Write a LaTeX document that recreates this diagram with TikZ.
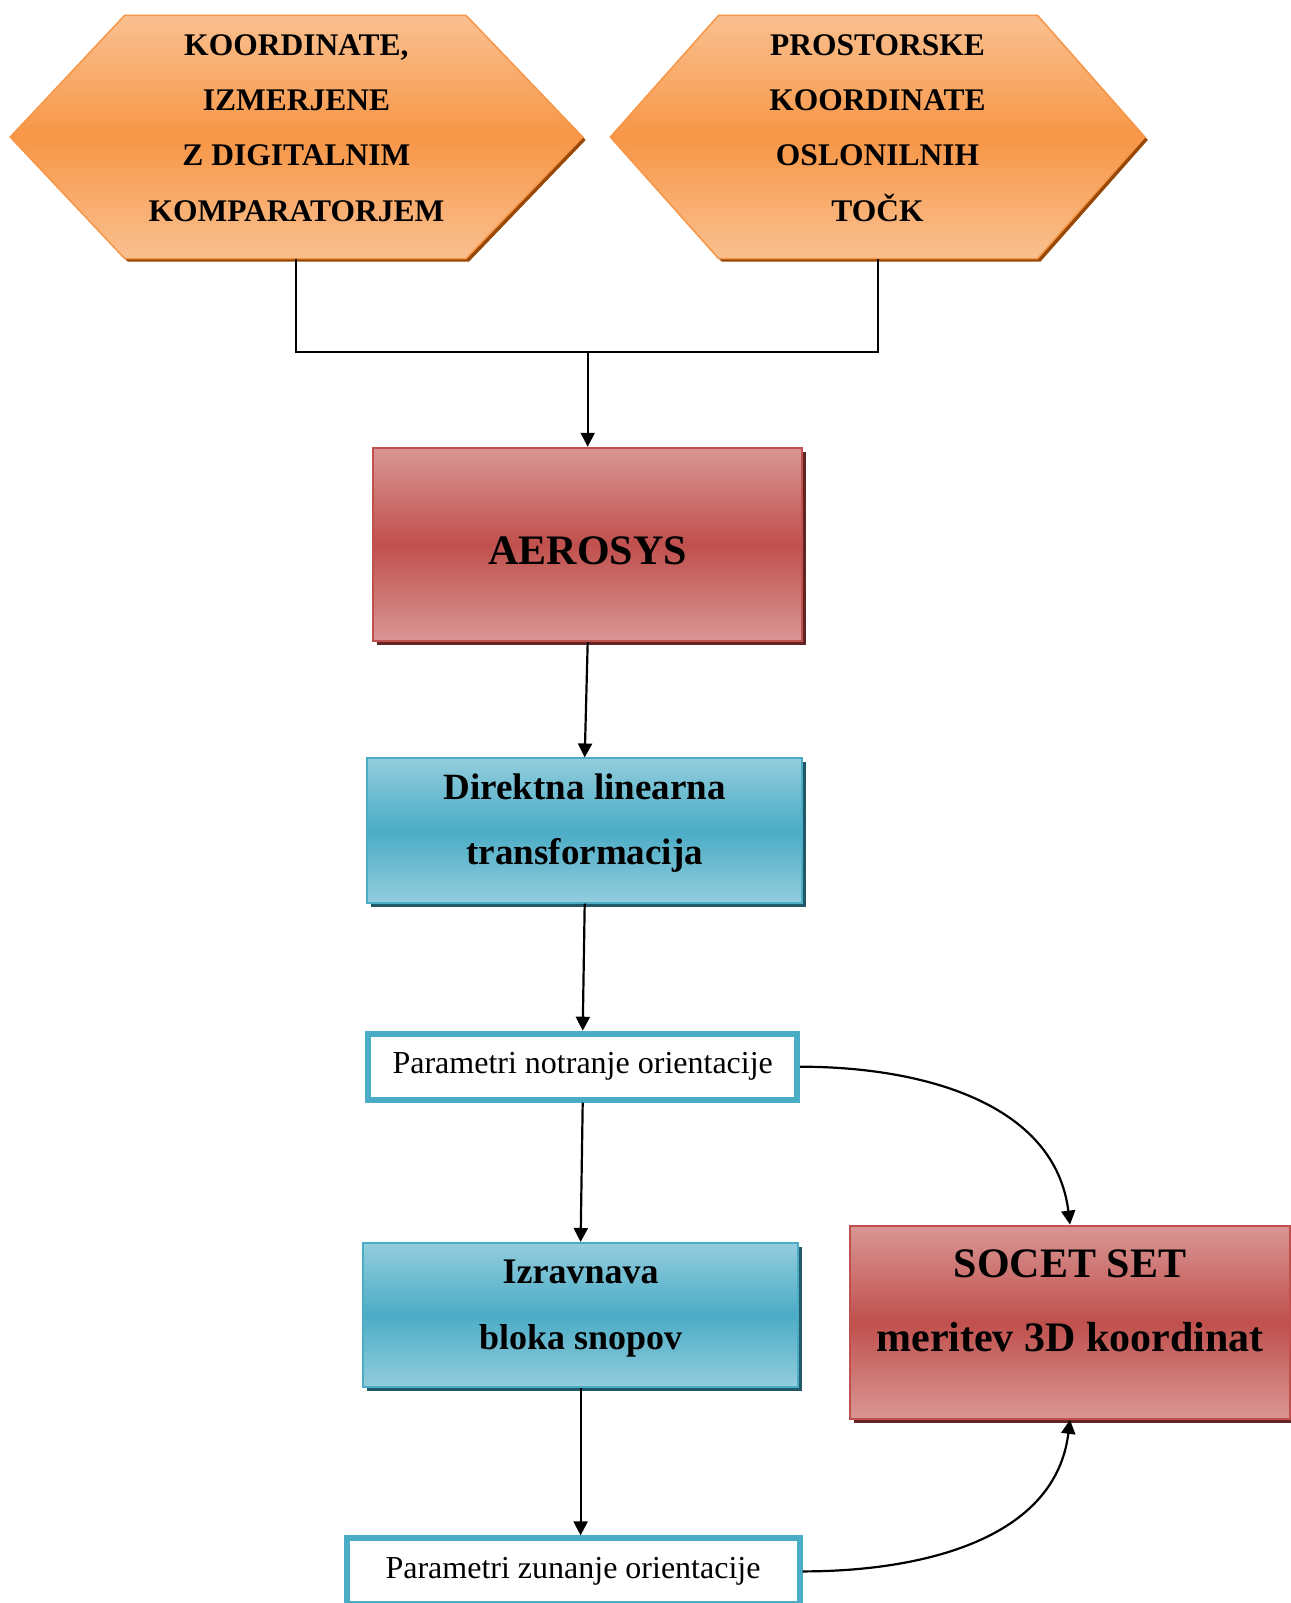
\documentclass[tikz,border=0pt]{standalone}
\usepackage{fontspec}
\setmainfont{Liberation Serif}
\usetikzlibrary{arrows.meta,shadows}
\definecolor{orL}{HTML}{FAC090}
\definecolor{orM}{HTML}{F79646}
\definecolor{orS}{HTML}{984807}
\definecolor{rdL}{HTML}{D99694}
\definecolor{rdM}{HTML}{C0504D}
\definecolor{rdS}{HTML}{632523}
\definecolor{blL}{HTML}{93CDDD}
\definecolor{blM}{HTML}{4BACC6}
\definecolor{blS}{HTML}{215968}
\begin{document}
\begin{tikzpicture}[x=1pt,y=-1pt,
  hexshade/.style={draw=orM, line width=1.5pt, top color=orL, bottom color=orL, middle color=orM},
  hextxt/.style={font=\fontsize{31.5}{55.2}\selectfont\bfseries, align=center, inner sep=0pt},
  redbox/.style={rectangle, draw=rdM, line width=2pt, top color=rdL, bottom color=rdL, middle color=rdM,
     drop shadow={fill=rdS, opacity=1, shadow xshift=4pt, shadow yshift=-4pt}, inner sep=0pt},
  bluebox/.style={rectangle, draw=blM, line width=2pt, top color=blL, bottom color=blL, middle color=blM,
     drop shadow={fill=blS, opacity=1, shadow xshift=4pt, shadow yshift=-4pt}, inner sep=0pt},
  parbox/.style={rectangle, draw=blM, line width=6pt, fill=white, inner sep=0pt,
     font=\fontsize{32}{38}\selectfont},
  arr/.style={line width=2.2pt, -{Triangle[length=14pt,width=14pt]}},
  ln/.style={line width=2pt}
]
\useasboundingbox (0,0) rectangle (1290,1603);
% hexagon 1
\path[fill=orS] (13.2,140) -- (127.7,18.3) -- (469,18.3) -- (585.7,140) -- (469,261.6) -- (127.7,261.6) -- cycle;
\path[hexshade] (10.2,137) -- (124.7,15.3) -- (466,15.3) -- (582.7,137) -- (466,258.6) -- (124.7,258.6) -- cycle;
\node[hextxt] (h1) at (296.4,128) {KOORDINATE,\\IZMERJENE\\Z DIGITALNIM\\KOMPARATORJEM};
\coordinate (h1b) at (296.4,258.6);
% hexagon 2
\path[fill=orS] (613.3,140) -- (721.6,18.3) -- (1040.5,18.3) -- (1147.8,140) -- (1040.5,261.6) -- (721.6,261.6) -- cycle;
\path[hexshade] (610.3,137) -- (718.6,15.3) -- (1037.5,15.3) -- (1144.8,137) -- (1037.5,258.6) -- (718.6,258.6) -- cycle;
\node[hextxt] (h2) at (877.5,128) {PROSTORSKE\\KOORDINATE\\OSLONILNIH\\TOČK};
\coordinate (h2b) at (877.5,258.6);
% boxes
\node[redbox, minimum width=429.4pt, minimum height=193.3pt,
  label={[name=aerot, font=\fontsize{42}{50}\selectfont\bfseries, yshift=-6.6pt]center:AEROSYS}] (aero) at (587.7,544.4) {};
\node[bluebox, minimum width=435.4pt, minimum height=144.1pt,
  label={[name=dltt, font=\fontsize{37}{64.6}\selectfont\bfseries, align=center, yshift=7.5pt]center:{Direktna linearna\\transformacija}}] (dlt) at (584.7,830.5) {};
\node[parbox, minimum width=429pt, minimum height=66pt] (pno) at (582.7,1066.7) {Parametri notranje orientacije};
\node[bluebox, minimum width=435.3pt, minimum height=144pt,
  label={[name=izrt, font=\fontsize{36}{65.4}\selectfont\bfseries, align=center, yshift=6.6pt]center:{Izravnava\\bloka snopov}}] (izr) at (580.6,1315) {};
\node[redbox, minimum width=440.5pt, minimum height=193.2pt,
  label={[name=soct, font=\fontsize{42}{74.6}\selectfont\bfseries, align=center, yshift=21.5pt]center:{SOCET SET\\meritev 3D koordinat}}] (soc) at (1070,1322.2) {};
\node[parbox, minimum width=453pt, minimum height=66pt] (pzu) at (573,1571.4) {Parametri zunanje orientacije};
% connectors
\coordinate (j) at (587.7,351.6);
\draw[ln] (h1b) |- (j) -| (h2b);
\draw[arr] (j) -- (aero.north);
\draw[arr] (aero.south) -- (dlt.north);
\draw[arr] (dlt.south) -- (pno.north);
\draw[arr] (pno.south) -- (izr.north);
\draw[arr] (izr.south) -- (izr.south |- pzu.north);
\draw[arr] (pno.east) to[out=0,in=97] (soc.north);
\draw[arr] (pzu.east) to[out=0,in=-97] (soc.south);
\end{tikzpicture}
\end{document}
